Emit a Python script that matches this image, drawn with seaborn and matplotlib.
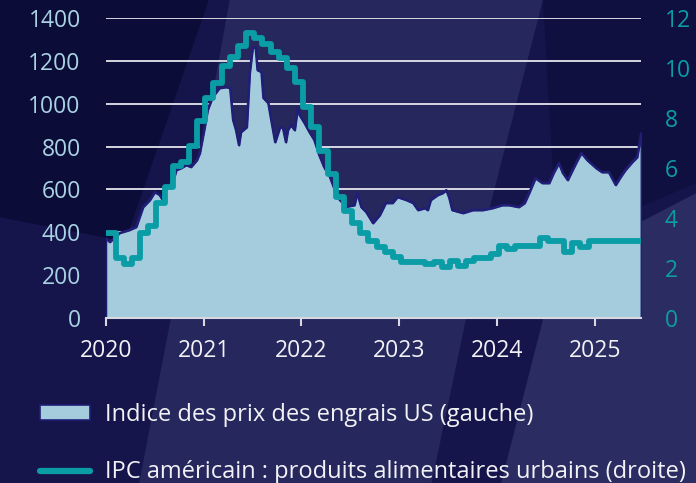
import numpy as np
import pandas as pd
import matplotlib
matplotlib.use("Agg")
import matplotlib.pyplot as plt
from matplotlib.patches import Polygon, Patch
from matplotlib.lines import Line2D
import seaborn as sns

# ---------------- data ----------------
# US fertilizer price index (left axis); time in decimal years
fert_t = [2020.00, 2020.04, 2020.14, 2020.24, 2020.31, 2020.38, 2020.45, 2020.50,
          2020.55, 2020.58, 2020.62, 2020.69, 2020.72, 2020.77, 2020.82, 2020.87,
          2020.93, 2020.96, 2021.01, 2021.04, 2021.09, 2021.16, 2021.23, 2021.27,
          2021.30, 2021.33, 2021.36, 2021.38, 2021.44, 2021.47, 2021.50, 2021.53,
          2021.55, 2021.59, 2021.61, 2021.66, 2021.69, 2021.73, 2021.78, 2021.81,
          2021.84, 2021.86, 2021.89, 2021.93, 2021.96, 2021.98, 2022.03, 2022.08,
          2022.13, 2022.18, 2022.23, 2022.29, 2022.34, 2022.39, 2022.46, 2022.54,
          2022.57, 2022.61, 2022.66, 2022.73, 2022.80, 2022.86, 2022.93, 2022.98,
          2023.07, 2023.14, 2023.19, 2023.26, 2023.29, 2023.32, 2023.39, 2023.44,
          2023.48, 2023.51, 2023.54, 2023.65, 2023.75, 2023.85, 2023.95, 2024.05,
          2024.12, 2024.22, 2024.28, 2024.33, 2024.39, 2024.46, 2024.53, 2024.58,
          2024.63, 2024.67, 2024.72, 2024.77, 2024.82, 2024.86, 2024.92, 2025.01,
          2025.07, 2025.14, 2025.21, 2025.26, 2025.31, 2025.38, 2025.43, 2025.47]
fert_v = [373, 355, 397, 411, 425, 518, 551, 588,
          574, 551, 607, 644, 691, 700, 714, 705,
          737, 770, 891, 971, 1031, 1073, 1078, 1073,
          924, 877, 807, 868, 891, 1143, 1260, 1265,
          1157, 1148, 1027, 1003, 924, 821, 891, 887,
          821, 877, 901, 877, 980, 947, 910, 868,
          831, 761, 705, 658, 597, 551, 520, 527,
          583, 518, 495, 443, 481, 537, 537, 565,
          551, 537, 504, 513, 504, 551, 574, 583,
          597, 560, 504, 490, 504, 504, 513, 527,
          527, 518, 537, 588, 653, 630, 630, 681,
          723, 677, 644, 691, 737, 770, 737, 700,
          681, 681, 621, 658, 691, 728, 751, 863]

# US CPI, urban food (right axis), monthly from Jan 2020
cpi_v = [3.4, 2.4, 2.15, 2.4, 3.4, 3.7, 4.6, 5.25, 6.1, 6.25,
         6.9, 7.9, 8.8, 9.4, 10.1, 10.45, 10.9, 11.4, 11.2, 10.95,
         10.65, 10.4, 10.0, 9.45, 8.45, 7.65, 6.7, 5.75, 4.85, 4.3,
         3.8, 3.4, 3.1, 2.85, 2.65, 2.45, 2.25, 2.25, 2.25, 2.15,
         2.25, 2.05, 2.3, 2.1, 2.3, 2.4, 2.4, 2.55, 2.9, 2.75,
         2.9, 2.9, 2.9, 3.2, 3.1, 3.1, 2.65, 3.0, 2.85, 3.1,
         3.1, 3.1, 3.1, 3.1, 3.1, 3.1, 3.1]
cpi_t = [2020 + (m + 0.2) / 12 if m > 0 else 2020.0 for m in range(len(cpi_v))]

year_ticks = [2020, 2021, 2022, 2023, 2024, 2025]
year_labels = ["2020", "2021", "2022", "2023", "2024", "2025"]
left_ticks = [0, 200, 400, 600, 800, 1000, 1200, 1400]
right_ticks = [0, 2, 4, 6, 8, 10, 12]

label_fert = "Indice des prix des engrais US (gauche)"
label_cpi = "IPC américain : produits alimentaires urbains (droite)"

# ---------------- styling ----------------
BG = "#15154B"
AREA = "#A4CCDC"
EDGE = "#211E78"
TEAL = "#0B9DA6"
LEFT_LBL = "#A9D3E3"
WHITE = "#F2F2F6"

sns.set_theme(style="white")
plt.rcParams["font.family"] = ["Open Sans", "DejaVu Sans"]

fig = plt.figure(figsize=(6.96, 4.83), dpi=100)
fig.patch.set_facecolor(BG)

# decorative background shapes (figure coordinates)
bg_shapes = [
    ([(0.33, 1.0), (0.78, 1.0), (0.70, 0.55), (0.62, 0.0), (0.20, 0.0), (0.28, 0.6)], "#2B2E64", 0.75),
    ([(0.80, 0.45), (1.0, 0.60), (1.0, 0.0), (0.72, 0.0)], "#3A3D70", 0.6),
    ([(0.0, 1.0), (0.30, 1.0), (0.18, 0.5), (0.0, 0.55)], "#0B0B38", 0.9),
    ([(0.78, 1.0), (1.0, 1.0), (1.0, 0.62), (0.80, 0.5)], "#0E0E3E", 0.8),
]
for pts, col, a in bg_shapes:
    fig.patches.append(Polygon(pts, closed=True, transform=fig.transFigure,
                               facecolor=col, edgecolor="none", alpha=a, zorder=-10))

ax = fig.add_axes([0.152, 0.3416, 0.769, 0.6211])
ax.set_facecolor("none")

fert_df = pd.DataFrame({"t": fert_t, "v": fert_v})
cpi_df = pd.DataFrame({"t": cpi_t, "v": cpi_v})

# area for the fertilizer index
ax.fill_between(fert_df["t"], 0, fert_df["v"], facecolor=AREA, edgecolor=EDGE,
                linewidth=1.4, zorder=2)
sns.lineplot(data=fert_df, x="t", y="v", ax=ax, color=EDGE, linewidth=1.6,
             zorder=3, legend=False)

ax.set_xlim(2020, 2025.47)
ax.set_ylim(0, 1400)
ax.set_yticks(left_ticks)
ax.set_yticklabels([str(v) for v in left_ticks])
ax.set_xticks(year_ticks)
ax.set_xticklabels(year_labels)
ax.set_xlabel("")
ax.set_ylabel("")
ax.grid(axis="y", color="#E6E6EE", linewidth=1.3, zorder=0)
ax.grid(axis="x", visible=False)
ax.set_axisbelow(True)
for s in ["top", "left", "right"]:
    ax.spines[s].set_visible(False)
ax.spines["bottom"].set_color("#D8D8E2")
ax.spines["bottom"].set_linewidth(1.5)
ax.spines["bottom"].set_zorder(4)
ax.tick_params(axis="y", length=0, pad=18, labelsize=16.5, labelcolor=LEFT_LBL)
ax.tick_params(axis="x", length=6, width=1.5, color="#D8D8E2", direction="out",
               pad=9, labelsize=16.5, labelcolor=WHITE, bottom=True)

# CPI on the right axis
ax2 = ax.twinx()
sns.lineplot(data=cpi_df, x="t", y="v", ax=ax2, color=TEAL, linewidth=4.2,
             drawstyle="steps-post", legend=False, zorder=5)
ax2.lines[-1].set_solid_joinstyle("round")
ax2.set_xlim(2020, 2025.47)
ax2.set_ylim(0, 12)
ax2.set_yticks(right_ticks)
ax2.set_yticklabels([str(v) for v in right_ticks])
ax2.set_ylabel("")
ax2.grid(False)
for s in ax2.spines.values():
    s.set_visible(False)
ax2.tick_params(axis="y", length=0, pad=17, labelsize=16.5, labelcolor=TEAL)

# legend
handles = [Patch(facecolor=AREA, edgecolor=EDGE, linewidth=1.2),
           Line2D([0], [0], color=TEAL, linewidth=4.5, solid_capstyle="round")]
leg = fig.legend(handles, [label_fert, label_cpi], loc="upper left",
                 bbox_to_anchor=(0.058, 0.166), frameon=False, fontsize=17,
                 labelcolor=WHITE, handlelength=2.12, handleheight=0.55,
                 handletextpad=0.6, labelspacing=1.42, borderaxespad=0,
                 borderpad=0)

fig.savefig("out.png", dpi=100, facecolor=fig.get_facecolor())
